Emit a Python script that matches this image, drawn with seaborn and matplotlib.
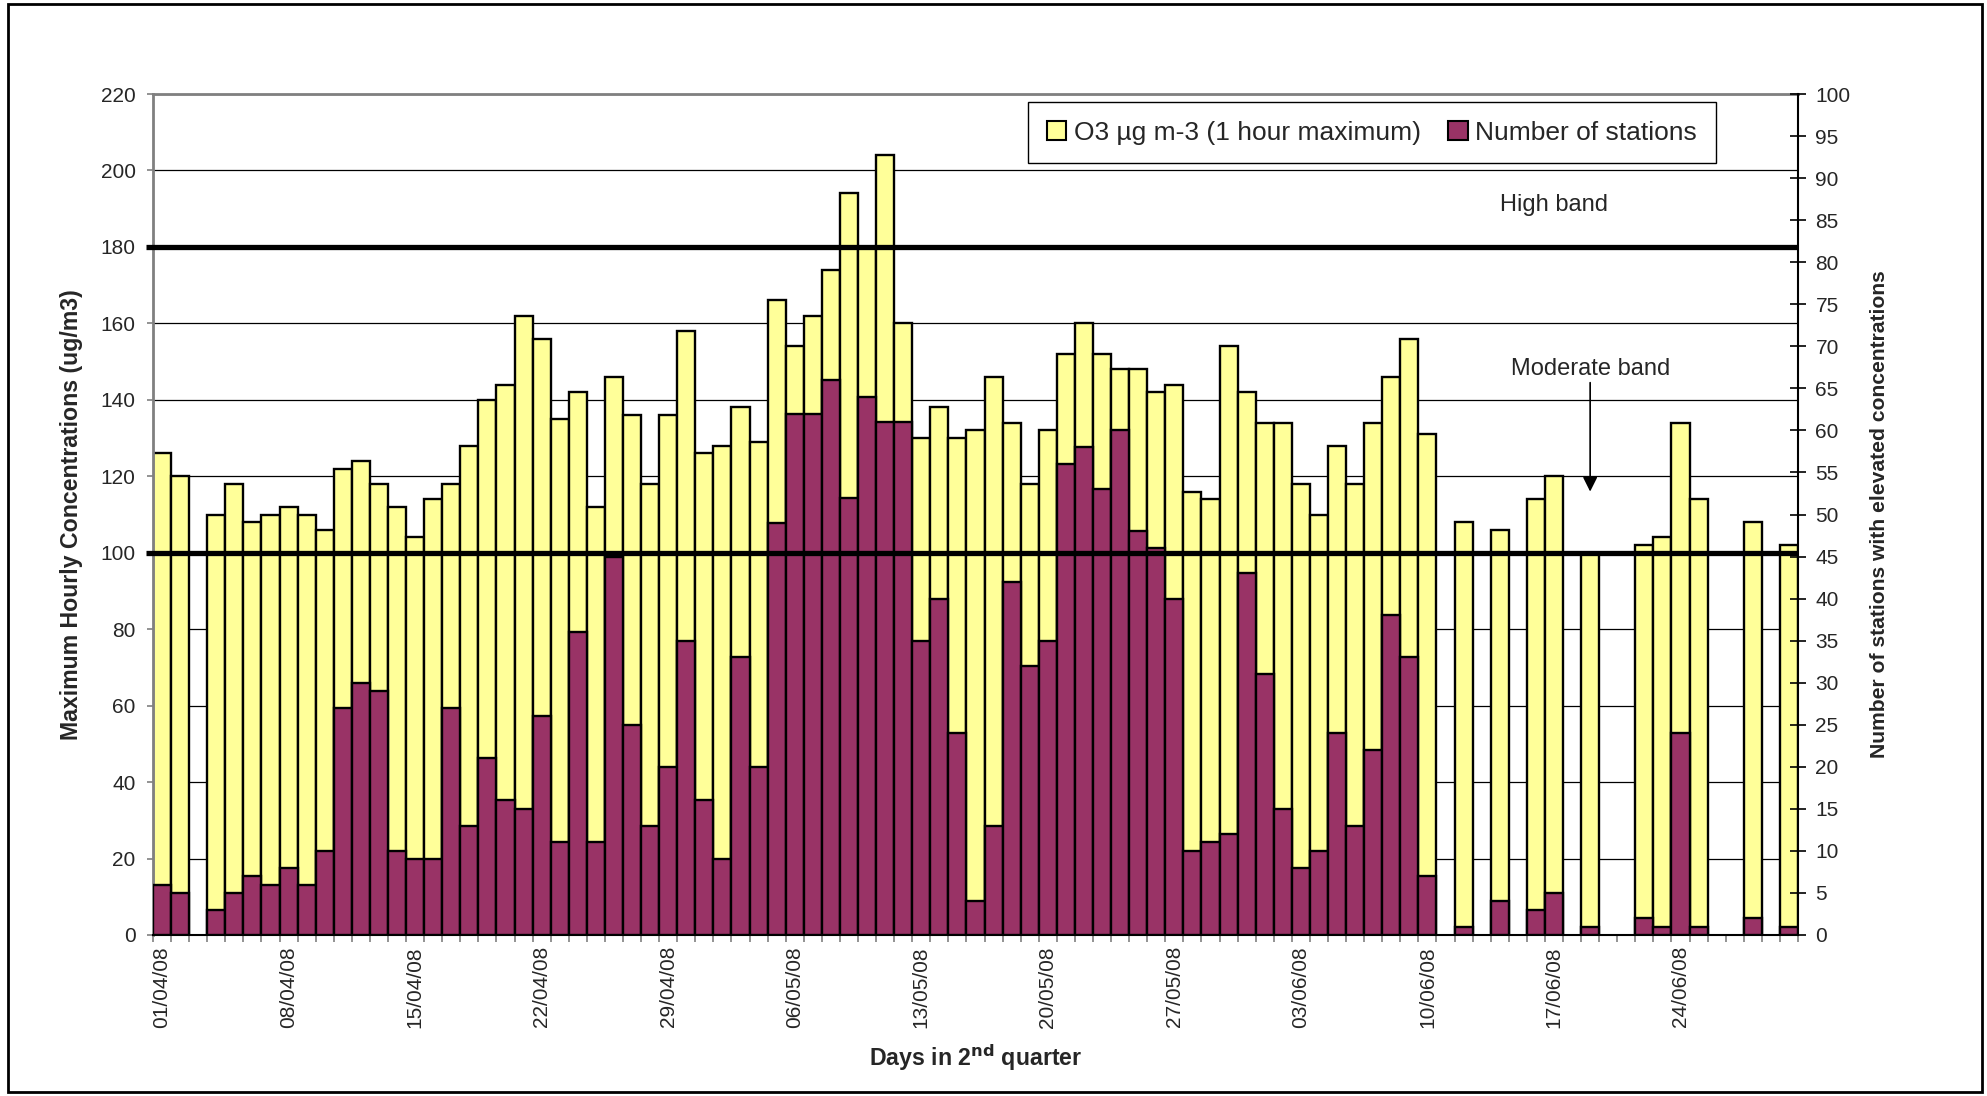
import numpy as np
import pandas as pd
import matplotlib
matplotlib.use("Agg")
import matplotlib.pyplot as plt
from matplotlib.patches import Patch, Rectangle
from matplotlib.transforms import blended_transform_factory
import seaborn as sns

# Days of the 2nd quarter (category axis)
dates = pd.date_range("2008-04-01", "2008-06-30", freq="D")
day_labels = [d.strftime("%d/%m/%y") for d in dates]

nan = np.nan
# Daily maximum hourly O3 concentration (ug/m3); nan = no exceedance day
o3_max = [
    126, 120, nan, 110, 118, 108, 110, 112, 110, 106,
    122, 124, 118, 112, 104, 114, 118, 128, 140, 144,
    162, 156, 135, 142, 112, 146, 136, 118, 136, 158,
    126, 128, 138, 129, 166, 154, 162, 174, 194, 180,
    204, 160, 130, 138, 130, 132, 146, 134, 118, 132,
    152, 160, 152, 148, 148, 142, 144, 116, 114, 154,
    142, 134, 134, 118, 110, 128, 118, 134, 146, 156,
    131, nan, 108, nan, 106, nan, 114, 120, nan, 100,
    nan, nan, 102, 104, 134, 114, nan, nan, 108, nan,
    102,
]
# Number of stations with elevated concentrations
stations = [
    6, 5, nan, 3, 5, 7, 6, 8, 6, 10,
    27, 30, 29, 10, 9, 9, 27, 13, 21, 16,
    15, 26, 11, 36, 11, 45, 25, 13, 20, 35,
    16, 9, 33, 20, 49, 62, 62, 66, 52, 64,
    61, 61, 35, 40, 24, 4, 13, 42, 32, 35,
    56, 58, 53, 60, 48, 46, 40, 10, 11, 12,
    43, 31, 15, 8, 10, 24, 13, 22, 38, 33,
    7, nan, 1, nan, 4, nan, 3, 5, nan, 1,
    nan, nan, 2, 1, 24, 1, nan, nan, 2, nan,
    1,
]

# Assessment thresholds on the concentration axis
band_levels = [180, 100]

df = pd.DataFrame({"day": day_labels, "o3": o3_max, "stations": stations})

sns.set_style("ticks")
plt.rcParams["font.family"] = ["Liberation Sans", "DejaVu Sans"]

YELLOW = "#FFFF99"
MAROON = "#993366"
GREY = "#808080"

fig = plt.figure(figsize=(19.87, 10.96), dpi=100)
ax = fig.add_axes([0.0770, 0.1469, 0.8279, 0.7673])
ax2 = ax.twinx()

sns.barplot(data=df, x="day", y="o3", order=day_labels, ax=ax, color=YELLOW,
            saturation=1, width=1.0, edgecolor="black", linewidth=1.7,
            errorbar=None)
sns.barplot(data=df, x="day", y="stations", order=day_labels, ax=ax2,
            color=MAROON, saturation=1, width=1.0, edgecolor="black",
            linewidth=1.7, errorbar=None)

n = len(day_labels)
ax.set_xlim(-0.5, n - 0.5)
ax.set_ylim(0, 220)
ax2.set_ylim(0, 100)

# Left axis
ax.set_yticks(np.arange(0, 221, 20))
ax.yaxis.grid(True, color="black", linewidth=0.9)
ax.xaxis.grid(False)
ax.set_axisbelow(True)
ax.tick_params(axis="y", labelsize=15, length=4.5, width=1.2, color=GREY,
               pad=8, direction="out")

# Right axis
ax2.set_yticks(np.arange(0, 101, 5))
ax2.tick_params(axis="y", labelsize=15, length=11, width=1.2, color="black",
                pad=7, direction="inout")
ax2.grid(False)

# Category axis: weekly labels, a tick at every day boundary
label_pos = list(range(0, n, 7))
ax.set_xticks(label_pos)
ax.set_xticklabels([day_labels[i] for i in label_pos], rotation=90)
ax.set_xticks(np.arange(-0.5, n, 1.0), minor=True)
ax.tick_params(axis="x", which="major", length=0, labelsize=15, pad=8)
ax.tick_params(axis="x", which="minor", length=5, width=1.2, color=GREY,
               direction="out")

# Spines
for side in ("left", "top"):
    ax.spines[side].set_color(GREY)
    ax.spines[side].set_linewidth(2)
ax.spines["bottom"].set_color("black")
ax.spines["bottom"].set_linewidth(1.5)
ax.spines["right"].set_visible(False)
for side in ("left", "top", "bottom"):
    ax2.spines[side].set_visible(False)
ax2.spines["right"].set_color("black")
ax2.spines["right"].set_linewidth(1.5)

# Axis titles
ax.set_xlabel("Days in 2$^{\\mathbf{nd}}$ quarter", fontsize=16.7,
              fontweight="bold")
ax.xaxis.set_label_coords(0.5003, -0.128)
ax.set_ylabel("Maximum Hourly Concentrations (ug/m3)", fontsize=16.7,
              fontweight="bold")
ax.yaxis.set_label_coords(-0.0426, 0.5)
ax2.set_ylabel("Number of stations with elevated concentrations",
               fontsize=15.2, fontweight="bold")
ax2.yaxis.set_label_coords(1.0438, 0.5)

# Band threshold lines, drawn over both bar series
band_trans = blended_transform_factory(ax2.transAxes, ax.transData)
for level in band_levels:
    ax2.plot([-0.004, 1.0], [level, level], transform=band_trans,
             color="black", linewidth=3.8, clip_on=False, zorder=6,
             solid_capstyle="butt")

# Band annotations
ax2.text(77, 191, "High band", transform=ax.transData, ha="center",
         va="center", fontsize=17, zorder=7)
ax2.text(79, 148, "Moderate band", transform=ax.transData, ha="center",
         va="center", fontsize=17, zorder=7)
ax2.annotate("", xy=(79, 116), xycoords=ax.transData, xytext=(79, 144.5),
             textcoords=ax.transData,
             arrowprops=dict(arrowstyle="-|>", color="black", lw=1.2,
                             mutation_scale=22, shrinkA=0, shrinkB=0),
             zorder=7)

# Legend
handles = [
    Patch(facecolor=YELLOW, edgecolor="black", linewidth=1.5,
          label="O3 \u00b5g m-3 (1 hour maximum)"),
    Patch(facecolor=MAROON, edgecolor="black", linewidth=1.5,
          label="Number of stations"),
]
leg = ax2.legend(handles=handles, loc="upper left",
                 bbox_to_anchor=(0.532, 0.99), borderaxespad=0, ncol=2,
                 frameon=True, fancybox=False, edgecolor="black",
                 framealpha=1, fontsize=19, handlelength=0.75,
                 handleheight=0.75, handletextpad=0.3, columnspacing=1.0,
                 borderpad=0.7)
leg.get_frame().set_linewidth(1.0)
leg.set_zorder(8)

# Chart border
fig.add_artist(Rectangle((8 / 1987, 4 / 1096), (1982 - 8) / 1987,
                         (1092 - 4) / 1096, transform=fig.transFigure,
                         fill=False, edgecolor="black", linewidth=2))

fig.savefig("out.png", dpi=100, facecolor="white")
